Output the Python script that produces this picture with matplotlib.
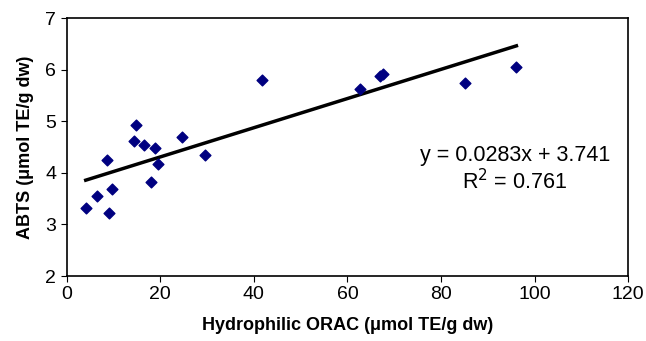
import matplotlib
matplotlib.use('Agg')
import matplotlib.pyplot as plt
import numpy as np

plt.rcParams['font.family'] = ['Liberation Sans', 'DejaVu Sans']

orac = [4.1, 6.6, 9.1, 9.7, 8.6, 14.4, 14.9, 16.6, 18.9, 19.5, 18.0, 24.6, 29.5,
        41.7, 62.7, 67.0, 67.5, 85.2, 96.1]
abts = [3.31, 3.55, 3.23, 3.69, 4.25, 4.61, 4.92, 4.53, 4.49, 4.18, 3.82, 4.69, 4.34,
        5.79, 5.63, 5.88, 5.92, 5.74, 6.05]
slope, intercept, r2 = 0.0283, 3.741, 0.761

fig = plt.figure(figsize=(6.46, 3.41), dpi=100)
ax = fig.add_axes([0.103, 0.1906, 0.8696, 0.7566])
ax.scatter(orac, abts, marker='D', s=30, color='#000080', zorder=3)
xl = np.array([min(orac), max(orac)])
ax.plot(xl, slope * xl + intercept, color='black', lw=2.5)
ax.text(95.8, 4.33, f'y = {slope}x + {intercept}', ha='center', va='center', fontsize=15.5)
ax.text(95.8, 3.82, f'R$^2$ = {r2}', ha='center', va='center', fontsize=15.5)
ax.set_xlim(0, 120)
ax.set_ylim(2, 7)
ax.set_xticks(range(0, 121, 20))
ax.set_yticks(range(2, 8))
for s in ax.spines.values():
    s.set_linewidth(1.2)
ax.tick_params(labelsize=14, length=4, top=False, right=False)
ax.set_xlabel('Hydrophilic ORAC (μmol TE/g dw)', fontsize=13, fontweight='bold', labelpad=10)
ax.set_ylabel('ABTS (μmol TE/g dw)', fontsize=13, fontweight='bold', labelpad=8)
fig.savefig('out.png', dpi=100)
